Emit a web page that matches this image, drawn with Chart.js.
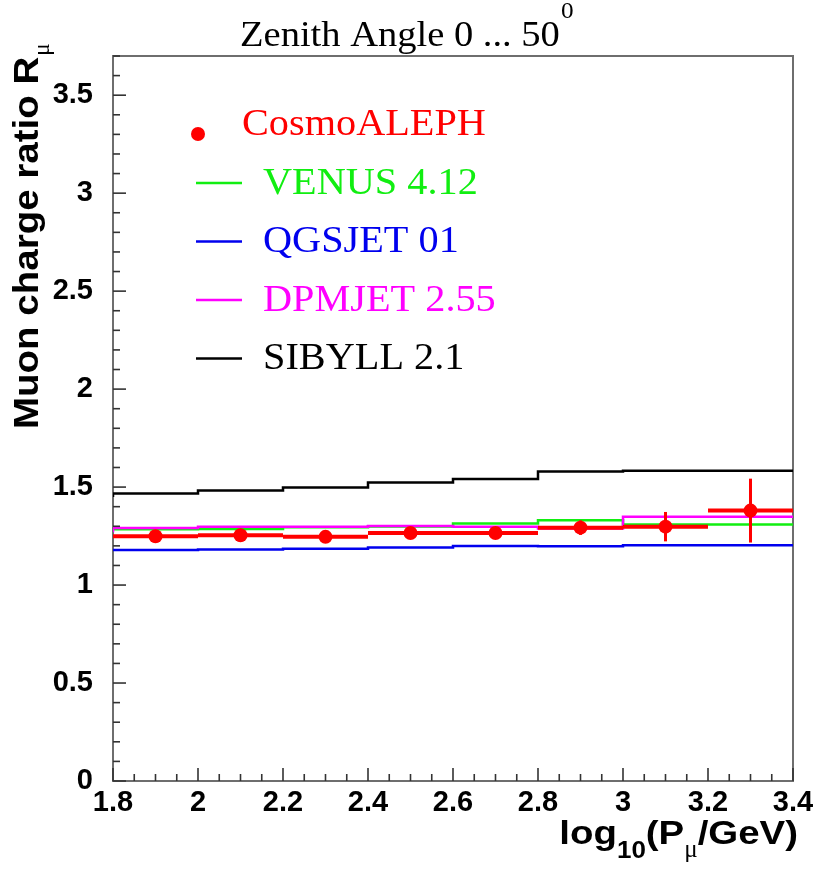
<!DOCTYPE html>
<html>
<head>
<meta charset="utf-8">
<script src="https://cdn.jsdelivr.net/npm/chart.js@4.4.1/dist/chart.umd.min.js"></script>
<style>
  html, body { margin: 0; padding: 0; background: #ffffff; }
  canvas { display: block; }
</style>
</head>
<body>
<canvas id="chart" width="819" height="870"></canvas>
<script>
// Momentum bins in log10(P / GeV)
const binEdges   = [1.8, 2.0, 2.2, 2.4, 2.6, 2.8, 3.0, 3.2, 3.4];
const binCenters = [1.9, 2.1, 2.3, 2.5, 2.7, 2.9, 3.1, 3.3];

// Measured muon charge ratio with statistical errors
const cosmoAleph    = [1.249, 1.254, 1.246, 1.266, 1.266, 1.293, 1.298, 1.380];
const cosmoAlephErr = [0.020, 0.020, 0.020, 0.025, 0.030, 0.037, 0.075, 0.163];

// Hadronic interaction model predictions, one value per bin
const venus  = [1.279, 1.285, 1.286, 1.295, 1.299, 1.314, 1.331, 1.309];
const qgsjet = [1.172, 1.179, 1.181, 1.185, 1.192, 1.199, 1.198, 1.203];
const dpmjet = [1.269, 1.291, 1.297, 1.298, 1.302, 1.297, 1.288, 1.348];
const sibyll = [1.450, 1.467, 1.482, 1.498, 1.523, 1.541, 1.580, 1.583];

// Labelled axis ticks
const xTickValues = [1.8, 2.0, 2.2, 2.4, 2.6, 2.8, 3.0, 3.2, 3.4];
const yTickValues = [0, 0.5, 1, 1.5, 2, 2.5, 3, 3.5];

const RED = '#ff0000', GREEN = '#11ee11', BLUE = '#0000ee', MAGENTA = '#ff00ff', BLACK = '#000000';

// histogram outline: value held from each lower bin edge to the next edge
function stepPoints(vals) {
  const pts = vals.map((v, i) => ({ x: binEdges[i], y: v }));
  pts.push({ x: binEdges[vals.length], y: vals[vals.length - 1] });
  return pts;
}

function modelSet(label, vals, color, order) {
  return {
    label, data: stepPoints(vals), showLine: true, stepped: 'after',
    borderColor: color, backgroundColor: color, borderWidth: 2.5,
    pointRadius: 0, pointHoverRadius: 0, fill: false, order
  };
}

const fmt = v => String(+Number(v).toFixed(2));

// text drawn with a horizontal stretch factor; returns advance width
function stretchedText(ctx, text, x, y, sx) {
  ctx.save();
  ctx.translate(x, y);
  ctx.scale(sx, 1);
  ctx.fillText(text, 0, 0);
  ctx.restore();
  return ctx.measureText(text).width * sx;
}

const frameAndMarks = {
  id: 'frameAndMarks',
  beforeDatasetsDraw(chart) {
    const { ctx, chartArea: a } = chart;
    ctx.save();
    ctx.strokeStyle = '#6e6e6e';
    ctx.lineWidth = 2;
    ctx.strokeRect(a.left, a.top, a.right - a.left, a.bottom - a.top);
    ctx.restore();
  },
  afterDatasetsDraw(chart) {
    const { ctx, chartArea: a, scales } = chart;
    const xs = scales.x, ys = scales.y;

    // error bars of the measurement
    const ds = chart.data.datasets[0];
    ctx.save();
    ctx.strokeStyle = ds.backgroundColor;
    ctx.lineCap = 'butt';
    ds.data.forEach((p, i) => {
      const xc = xs.getPixelForValue(p.x);
      const yc = ys.getPixelForValue(p.y);
      ctx.lineWidth = 4;
      ctx.beginPath();
      ctx.moveTo(xs.getPixelForValue(binEdges[i]), yc);
      ctx.lineTo(xs.getPixelForValue(binEdges[i + 1]), yc);
      ctx.stroke();
      ctx.lineWidth = 3;
      ctx.beginPath();
      ctx.moveTo(xc, ys.getPixelForValue(p.y + p.err));
      ctx.lineTo(xc, ys.getPixelForValue(p.y - p.err));
      ctx.stroke();
    });
    ctx.restore();

    // inward tick marks: major at labelled values, minor in between
    ctx.save();
    ctx.strokeStyle = '#333333';
    ctx.lineWidth = 1.6;
    const xMinor = 0.05, yMinor = 0.1;
    const nx = Math.round((xs.max - xs.min) / xMinor);
    for (let k = 0; k <= nx; k++) {
      const v = xs.min + k * xMinor;
      const px = xs.getPixelForValue(v);
      const len = (k % 4 === 0) ? 13 : 7;
      ctx.beginPath();
      ctx.moveTo(px, a.bottom);
      ctx.lineTo(px, a.bottom - len);
      ctx.stroke();
    }
    const ny = Math.floor((ys.max - ys.min) / yMinor + 1e-6);
    for (let k = 0; k <= ny; k++) {
      const v = ys.min + k * yMinor;
      const py = ys.getPixelForValue(v);
      const len = (k % 5 === 0) ? 13 : 7;
      ctx.beginPath();
      ctx.moveTo(a.left, py);
      ctx.lineTo(a.left + len, py);
      ctx.stroke();
    }
    ctx.restore();
  },
  afterDraw(chart) {
    const ctx = chart.ctx;
    ctx.save();
    ctx.textBaseline = 'alphabetic';
    ctx.textAlign = 'left';

    // title with degree-style superscript
    ctx.fillStyle = BLACK;
    ctx.font = '36px "Liberation Serif"';
    let x = 240;
    x += stretchedText(ctx, 'Zenith Angle 0 ... 50', x, 46, 1.07);
    ctx.font = '24px "Liberation Serif"';
    stretchedText(ctx, '0', x + 1, 18, 1.05);

    // y axis title, rotated
    ctx.save();
    ctx.translate(38, 429);
    ctx.rotate(-Math.PI / 2);
    ctx.font = 'bold 35px "Liberation Sans"';
    let w = stretchedText(ctx, 'Muon charge ratio R', 0, 0, 1.10);
    ctx.font = '23px "Liberation Serif"';
    stretchedText(ctx, 'μ', w + 1, 11, 1.0);
    ctx.restore();

    // x axis title, right aligned near the frame edge
    const parts = [
      { t: 'log', f: 'bold 34px "Liberation Sans"', dy: 0, sx: 1.13 },
      { t: '10', f: 'bold 23px "Liberation Sans"', dy: 14, sx: 1.13 },
      { t: '(P', f: 'bold 34px "Liberation Sans"', dy: 0, sx: 1.13 },
      { t: 'μ', f: '25px "Liberation Serif"', dy: 13, sx: 1.0 },
      { t: '/GeV)', f: 'bold 34px "Liberation Sans"', dy: 0, sx: 1.13 }
    ];
    let total = 0;
    parts.forEach(p => { ctx.font = p.f; p.w = ctx.measureText(p.t).width * p.sx; total += p.w; });
    x = 798 - total;
    parts.forEach(p => { ctx.font = p.f; stretchedText(ctx, p.t, x, 844 + p.dy, p.sx); x += p.w; });

    // legend
    const ds = chart.data.datasets;
    ctx.font = '38px "Liberation Serif"';
    // measurement entry: marker + label
    ctx.fillStyle = ds[0].backgroundColor;
    ctx.beginPath();
    ctx.arc(198, 134, 7, 0, Math.PI * 2);
    ctx.fill();
    stretchedText(ctx, ds[0].label, 242, 135, 1.06);
    // model entries: line + label
    const rows = [1, 2, 3, 4];
    rows.forEach((idx, r) => {
      const yLine = 183 + r * 58.5;
      ctx.strokeStyle = ds[idx].borderColor;
      ctx.lineWidth = 2.5;
      ctx.beginPath();
      ctx.moveTo(196, yLine);
      ctx.lineTo(242, yLine);
      ctx.stroke();
      ctx.fillStyle = ds[idx].borderColor;
      stretchedText(ctx, ds[idx].label, 263, yLine + 10.5, 1.06);
    });
    ctx.restore();
  }
};

const tickFont = { family: 'Liberation Sans', weight: 'bold', size: 29 };

const chart = new Chart(document.getElementById('chart'), {
  type: 'scatter',
  data: {
    datasets: [
      {
        label: 'CosmoALEPH',
        data: binCenters.map((x, i) => ({ x, y: cosmoAleph[i], err: cosmoAlephErr[i] })),
        backgroundColor: RED, borderColor: RED, borderWidth: 0,
        pointRadius: 7, pointHoverRadius: 7, showLine: false, order: 0
      },
      modelSet('VENUS 4.12', venus, GREEN, 2),
      modelSet('QGSJET 01', qgsjet, BLUE, 3),
      modelSet('DPMJET 2.55', dpmjet, MAGENTA, 1),
      modelSet('SIBYLL 2.1', sibyll, BLACK, 4)
    ]
  },
  options: {
    responsive: false,
    devicePixelRatio: 1,
    animation: false,
    layout: { padding: { top: 56, right: 26, left: 0, bottom: 0 } },
    plugins: { legend: { display: false }, title: { display: false }, tooltip: { enabled: false } },
    scales: {
      x: {
        type: 'linear', min: 1.8, max: 3.4,
        afterBuildTicks: s => { s.ticks = xTickValues.map(v => ({ value: v })); },
        afterFit: s => { s.height = 89; },
        grid: { display: false, drawTicks: false }, border: { display: false },
        ticks: { callback: v => fmt(v), padding: 5, maxRotation: 0, autoSkip: false, color: BLACK, font: tickFont }
      },
      y: {
        type: 'linear', min: 0, max: 3.7,
        afterBuildTicks: s => { s.ticks = yTickValues.map(v => ({ value: v })); },
        afterFit: s => { s.width = 113; },
        grid: { display: false, drawTicks: false }, border: { display: false },
        ticks: { callback: v => fmt(v), padding: 20, autoSkip: false, color: BLACK, font: tickFont }
      }
    }
  },
  plugins: [frameAndMarks]
});
</script>
</body>
</html>
